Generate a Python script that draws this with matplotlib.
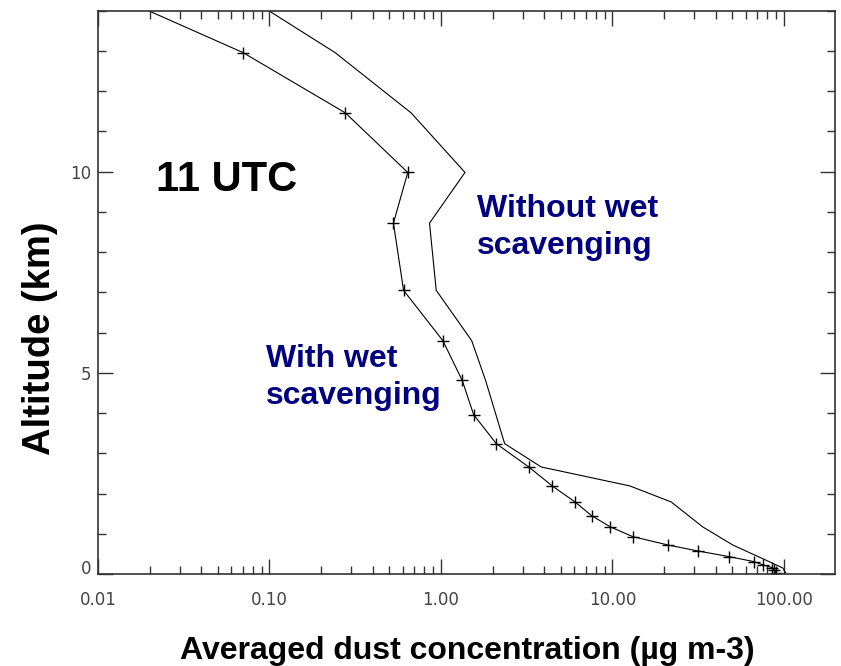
import matplotlib
matplotlib.use("Agg")
import matplotlib.pyplot as plt
from matplotlib.ticker import FixedLocator, NullFormatter, FixedFormatter, LogLocator
from matplotlib.transforms import ScaledTranslation

# ---- data ----
alt_wet = [14.0, 12.96, 11.46, 9.98, 8.72, 7.05, 5.80, 4.81, 3.96, 3.24, 2.66,
           2.19, 1.79, 1.45, 1.17, 0.93, 0.72, 0.57, 0.43, 0.31, 0.23, 0.16, 0.09, 0.03]
conc_wet = [0.0197, 0.070, 0.277, 0.64, 0.528, 0.605, 1.025, 1.33, 1.55, 2.10, 3.25,
            4.45, 6.05, 7.55, 9.73, 13.1, 21.1, 31.7, 48.1, 66.4, 75.2, 85.0, 88.0, 90.0]

alt_dry = [14.0, 12.96, 11.46, 9.98, 8.72, 7.05, 5.80, 4.81, 3.24, 2.66, 2.19,
           1.79, 1.17, 0.72, 0.36, 0.15, 0.0]
conc_dry = [0.099, 0.241, 0.67, 1.38, 0.857, 0.938, 1.51, 1.82, 2.35, 3.84, 12.6,
            22.0, 33.6, 50.3, 77.0, 98.4, 103.0]

xticks = [0.01, 0.1, 1.0, 10.0, 100.0]
xtick_labels = ["0.01", "0.10", "1.00", "10.00", "100.00"]
yticks = [0, 5, 10]
ytick_labels = ["0", "5", "10"]

W, H = 841, 666
fig = plt.figure(figsize=(W / 100, H / 100), dpi=100)

def fx(px):
    return px / W

def fy(py):
    return 1 - py / H

left, right, top, bottom = 98.0, 834.5, 10.7, 574.0
ax = fig.add_axes([fx(left), fy(bottom), fx(right) - fx(left), (bottom - top) / H])

ax.plot(conc_dry, alt_dry, color="black", lw=0.8)
ax.plot(conc_wet, alt_wet, color="black", lw=0.8, marker="+", markersize=8,
        markeredgewidth=1.0, markevery=list(range(1, len(alt_wet))))

ax.set_xscale("log")
ax.set_xlim(0.01, 197)
ax.set_ylim(0, 14)

ax.xaxis.set_major_locator(FixedLocator(xticks))
ax.xaxis.set_major_formatter(FixedFormatter(xtick_labels))
ax.xaxis.set_minor_locator(LogLocator(base=10, subs=range(2, 10), numticks=20))
ax.xaxis.set_minor_formatter(NullFormatter())
ax.yaxis.set_major_locator(FixedLocator(yticks))
ax.yaxis.set_major_formatter(FixedFormatter(ytick_labels))
ax.yaxis.set_minor_locator(FixedLocator(list(range(0, 15))))

spine_col = "#333333"
for s in ax.spines.values():
    s.set_color(spine_col)
    s.set_linewidth(1.2)

ax.tick_params(which="both", direction="in", top=True, right=True, color=spine_col,
               width=1.0)
ax.tick_params(which="major", length=11)
ax.tick_params(which="minor", length=5.5)
ax.tick_params(axis="x", which="major", pad=12, labelsize=12, labelcolor="#444444")
ax.tick_params(axis="y", which="major", pad=5, labelsize=12, labelcolor="#444444")

# the "0" label sits slightly above its tick in the reference
lbl0 = ax.yaxis.get_major_ticks()[0].label1
lbl0.set_transform(lbl0.get_transform() + ScaledTranslation(0, 5 / 72, fig.dpi_scale_trans))

bold = dict(family=["Liberation Sans", "DejaVu Sans"], weight="bold")
navy = "#000080"

fig.text(fx(155.5), fy(191), "11 UTC", fontsize=30, color="black",
         ha="left", va="baseline", **bold)
fig.text(fx(476.7), fy(217), "Without wet", fontsize=23, color=navy,
         ha="left", va="baseline", **bold)
fig.text(fx(476.7), fy(254), "scavenging", fontsize=23, color=navy,
         ha="left", va="baseline", **bold)
fig.text(fx(266), fy(367.3), "With wet", fontsize=23, color=navy,
         ha="left", va="baseline", **bold)
fig.text(fx(266), fy(404), "scavenging", fontsize=23, color=navy,
         ha="left", va="baseline", **bold)

fig.text(fx(467), fy(659), "Averaged dust concentration (µg m-3)", fontsize=23,
         color="black", ha="center", va="baseline", **bold)
fig.text(fx(50), fy(338), "Altitude (km)", fontsize=27.5, color="black",
         ha="center", va="baseline", rotation=90, rotation_mode="anchor", **bold)

fig.savefig("out.png", dpi=100)
